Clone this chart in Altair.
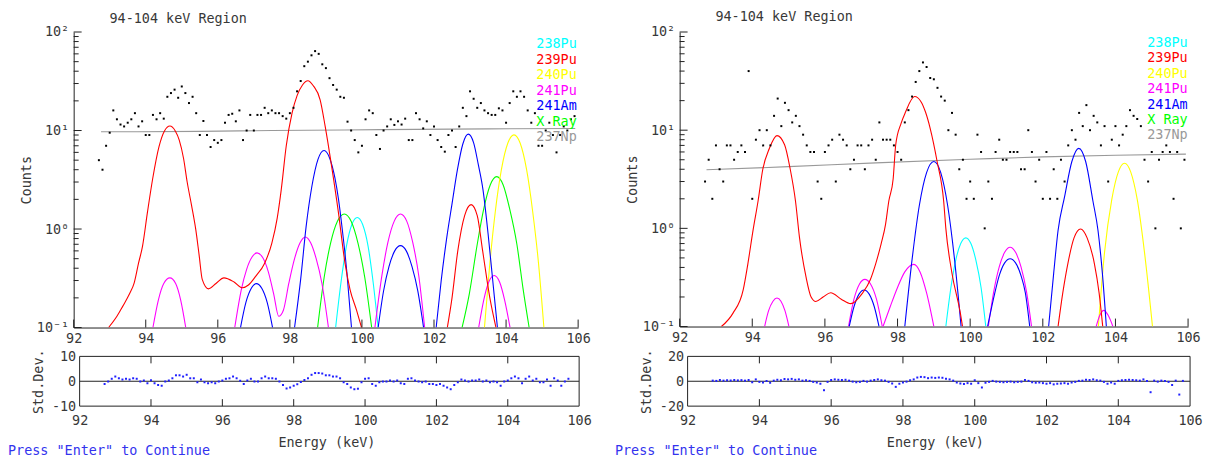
import altair as alt
import pandas as pd

FONT = "DejaVu Sans Mono"
TEXT = "#383838"
AXIS = "#202020"
FS = 13.5

TITLE = "94-104 keV Region"
PROMPT = 'Press "Enter" to Continue'
X_LABEL = "Energy (keV)"
Y_TOP_LABEL = "Counts"
Y_BOT_LABEL = "Std.Dev."
LEGEND = ["238Pu", "239Pu", "240Pu", "241Pu", "241Am", "X Ray", "237Np"]
COLORS = ["#00ffff", "#ff0000", "#ffff00", "#ff00ff", "#0000ff", "#00ff00", "#999999"]

X_TICKS = [92, 94, 96, 98, 100, 102, 104, 106]
X_INNER_TICKS = [94, 96, 98, 100, 102, 104]
Y_MAJOR = [0.1, 1, 10, 100]
Y_MINOR = [0.2, 0.3, 0.4, 0.5, 0.6, 0.7, 0.8, 0.9, 2, 3, 4, 5, 6, 7, 8, 9,
           20, 30, 40, 50, 60, 70, 80, 90]

ENERGY = [92.7, 92.8, 92.9, 93.0, 93.1, 93.2, 93.3, 93.4, 93.5, 93.6,
          93.7, 93.8, 93.9, 94.0, 94.1, 94.2, 94.3, 94.4, 94.5, 94.6,
          94.7, 94.8, 94.9, 95.0, 95.1, 95.2, 95.3, 95.4, 95.5, 95.6,
          95.7, 95.8, 95.9, 96.0, 96.1, 96.2, 96.3, 96.4, 96.5, 96.6,
          96.7, 96.8, 96.9, 97.0, 97.1, 97.2, 97.3, 97.4, 97.5, 97.6,
          97.7, 97.8, 97.9, 98.0, 98.1, 98.2, 98.3, 98.4, 98.5, 98.6,
          98.7, 98.8, 98.9, 99.0, 99.1, 99.2, 99.3, 99.4, 99.5, 99.6,
          99.7, 99.8, 99.9, 100.0, 100.1, 100.2, 100.3, 100.4, 100.5, 100.6,
          100.7, 100.8, 100.9, 101.0, 101.1, 101.2, 101.3, 101.4, 101.5, 101.6,
          101.7, 101.8, 101.9, 102.0, 102.1, 102.2, 102.3, 102.4, 102.5, 102.6,
          102.7, 102.8, 102.9, 103.0, 103.1, 103.2, 103.3, 103.4, 103.5, 103.6,
          103.7, 103.8, 103.9, 104.0, 104.1, 104.2, 104.3, 104.4, 104.5, 104.6,
          104.7, 104.8, 104.9, 105.0, 105.1, 105.2, 105.3, 105.4, 105.5, 105.6,
          105.7, 105.8, 105.9]

LEFT_COUNTS = [5.0, 4.0, 7.0, 9.5, 16, 13, 11.5, 11, 12, 13,
               15, 11, 12.4, 9, 9, 14.4, 13, 15, 13.2, 22,
               24, 26, 21.5, 28, 24, 19, 22, 15, 9, 12.5,
               9, 6.8, 8, 7.5, 8, 12, 14.4, 14.8, 12.4, 16,
               8, 10, 14.4, 10, 14.4, 14.4, 17, 15, 16, 15,
               15, 14, 13.2, 15, 17, 25, 31.8, 45, 50, 58,
               64, 60, 47, 43, 34, 29, 26, 22, 21.5, 12.3,
               10, 8, 6, 7, 13, 16, 15, 9, 6.5, 10,
               11, 13, 11.4, 12.4, 11.5, 13.2, 8, 8, 15, 13,
               10.5, 12.4, 9, 11, 8, 6.8, 6.1, 9, 10, 6.8,
               11, 17, 14, 25, 21, 17, 19, 16, 15, 14.4,
               14.4, 16.8, 16, 12, 19, 25, 22, 25, 22, 16,
               12, 15, 7, 7, 10, 12, 9, 6, 9, 11,
               10, 13, 14]

LEFT_RESID = [-1.1, -0.1, 1.0, 1.9, 1.2, 0.7, 1.0, 0.7, 1.2, 1.0,
              -0.1, 0.3, -0.8, 0.4, -0.8, -1.5, -1.8, -0.1, 0.3, 1.2,
              2.4, 2.4, 1.9, 2.6, 1.2, 1.2, -0.4, 0.7, -0.4, -0.8,
              -0.4, -0.8, -0.1, 0.3, 1.0, 1.2, 1.9, 1.2, 0.2, -1.1,
              0.3, 1.0, -0.1, -0.1, 1.2, 1.9, 1.2, 1.2, 1.0, -0.1,
              -1.5, -2.9, -2.5, -1.8, -1.2, -0.3, 0.5, 1.2, 2.6, 3.3,
              3.3, 3.1, 2.4, 2.4, 1.9, 1.9, 1.2, -0.4, -1.1, -2.5,
              -3.2, -3.0, -0.4, 1.0, 1.2, -1.1, -1.8, -0.4, -0.1, -0.1,
              0.3, -0.1, 0.3, -0.8, -1.1, 1.0, 1.2, 0.3, -0.1, -0.4,
              -0.1, -1.1, -1.1, -1.5, -1.1, -1.8, -2.5, -3.2, -1.5, -0.4,
              0.7, 0.3, -0.1, 0.3, 0.3, 0.7, -0.1, 0.3, -0.4, -0.1,
              -0.4, -1.8, -0.1, 0.3, 1.2, 1.9, 1.2, -0.8, 1.0, 1.9,
              0.3, 1.0, -0.4, -0.4, 0.7, -1.8, 1.2, 0.3, -1.8, -0.1,
              1.0, None, None]

RIGHT_COUNTS = [3, 5, 2, 7, 4, 3, 7, 7, 5, 6,
                7, 6, 40, 2, 8, 10, 7, 10, 7, 14,
                21, 11, 19, 16, 12, 14, 11, 9, 7, 6,
                6, 3, 2, 6, 7, 8, 3, 9, 8, 7,
                4, 5, 7, 7, 4, 7, 8, 5, 12, 8,
                8, 8, 7, 6, 5, 12, 16, 22, 31, 40,
                49, 44, 34, 33, 27, 22, 20, 10, 15, 9,
                4, 5, 2, 3, 2, 9, 6, 1, 3, 2,
                6, 8, 5, 5, 6, 6, 6, 4, 4, 10,
                6, 3, 5, 2, 6, 2, 4, 2, 5, 3,
                7, 10, 8, 15, 11, 18, 10, 14, 12, 7,
                11, 3, 8, 11, 7, 9, 11, 16, 14, 13,
                11, 5, 3, 6, 1, 5, 6, 7, 6, 2,
                6, 1, 5]

RIGHT_RESID = [0.5, 0.3, 1.0, 0.5, 0.8, 0.6, 1.0, 0.7, 0.9, 0.5,
               1.0, -0.8, 1.5, -0.5, -1.0, 0.2, -1.2, 0.5, 1.2, 0.8,
               1.8, 1.5, 1.9, 1.2, 1.5, 0.5, 0.8, 0.3, -0.5, -1.0,
               -2.0, -7.2, -0.5, 1.0, 1.5, 1.2, 1.0, 1.2, 0.5, -0.3,
               -0.8, -0.5, 0.3, -0.3, 0.5, 1.0, 1.5, 0.8, 0.5, -0.5,
               -1.8, -4.5, -2.0, -1.0, -0.3, 0.8, 1.5, 3.0, 3.5, 3.3,
               2.5, 3.0, 2.7, 3.0, 2.8, 2.0, 1.5, 0.5, -1.0, -1.8,
               -2.2, -1.5, -2.0, 0.8, -1.5, -5.0, -1.2, -0.5, 0.3, -0.3,
               -0.5, -0.8, -0.5, -0.3, -0.8, -0.5, -0.3, 1.0, 0.3, -0.8,
               -1.2, -1.0, -1.5, -2.0, -1.5, -2.5, -2.0, -1.8, -1.5, -2.0,
               -1.0, -0.5, 0.3, 0.5, 1.2, 1.0, 1.5, 0.8, 0.5, -0.5,
               -2.0, -1.0, -2.0, 0.3, 0.8, 1.0, 1.2, 1.0, 0.8, 0.5,
               1.5, 0.3, -8.8, 0.5, -0.3, 0.5, 0.2, -0.5, -3.0, 0.5,
               -10.7, 0.3, None]

# ---- fitted component curves, left spectrum ----
L_NP237_E = [92.76, 95.5, 97.5, 100.5, 103.5, 105.92]
L_NP237_V = [9.7, 9.8, 10.0, 10.2, 10.4, 10.5]
L_PU239_E = [92.97, 93.2, 93.36, 93.55, 93.68, 93.8, 93.91, 94.05, 94.19, 94.37,
             94.52, 94.67, 94.82, 94.93, 95.05, 95.15, 95.27, 95.39, 95.48, 95.57,
             95.74, 95.95, 96.17, 96.45, 96.68, 96.85, 97.05, 97.3, 97.5, 97.65,
             97.76, 97.9, 98.06, 98.2, 98.35, 98.5, 98.65, 98.84, 98.98, 99.16,
             99.35, 99.53, 99.67, 99.85, 99.99]
L_PU239_V = [0.1, 0.13, 0.164, 0.22, 0.284, 0.45, 0.667, 1.5, 3.2, 6.9,
             9.9, 11.1, 9.9, 8.0, 5.2, 3.0, 1.75, 0.98, 0.55, 0.306,
             0.247, 0.28, 0.319, 0.29, 0.253, 0.27, 0.331, 0.45, 0.72, 1.3,
             2.5, 7.0, 15, 22.6, 29, 32, 28.5, 20.5, 11, 4.3,
             1.45, 0.45, 0.243, 0.15, 0.1]
L_PU239B_E = [102.37, 102.5, 102.66, 102.85, 103.03, 103.2, 103.35, 103.55, 103.72]
L_PU239B_V = [0.1, 0.2, 0.6, 1.37, 1.77, 1.37, 0.6, 0.2, 0.1]
L_PU241A_E = [94.2, 94.35, 94.5, 94.67, 94.83, 94.97, 95.11]
L_PU241A_V = [0.1, 0.19, 0.28, 0.319, 0.28, 0.19, 0.1]
L_PU241B_E = [96.47, 96.65, 96.8, 96.95, 97.09, 97.25, 97.4, 97.55, 97.69, 97.82,
              97.97, 98.13, 98.28, 98.43, 98.58, 98.73, 98.89, 99.07]
L_PU241B_V = [0.1, 0.24, 0.39, 0.52, 0.572, 0.51, 0.37, 0.22, 0.13, 0.15,
              0.28, 0.5, 0.72, 0.83, 0.72, 0.5, 0.28, 0.1]
L_PU241C_E = [100.36, 100.55, 100.72, 100.9, 101.07, 101.24, 101.41, 101.58, 101.74]
L_PU241C_V = [0.1, 0.33, 0.73, 1.21, 1.42, 1.21, 0.73, 0.33, 0.1]
L_PU241D_E = [103.24, 103.38, 103.52, 103.67, 103.82, 103.96, 104.11]
L_PU241D_V = [0.1, 0.19, 0.29, 0.337, 0.29, 0.19, 0.1]
L_AM241A_E = [96.63, 96.78, 96.93, 97.07, 97.22, 97.37, 97.52]
L_AM241A_V = [0.1, 0.18, 0.25, 0.279, 0.25, 0.18, 0.1]
L_AM241B_E = [98.13, 98.3, 98.45, 98.61, 98.78, 98.95, 99.1, 99.25, 99.35, 99.44, 99.58, 99.71]
L_AM241B_V = [0.1, 0.31, 1.05, 2.7, 5.1, 6.27, 5.3, 3.3, 2.0, 1.1, 0.37, 0.1]
L_AM241C_E = [100.45, 100.6, 100.75, 100.91, 101.07, 101.23, 101.39, 101.55, 101.71]
L_AM241C_V = [0.1, 0.235, 0.415, 0.6, 0.678, 0.6, 0.415, 0.235, 0.1]
L_AM241D_E = [102.06, 102.2, 102.35, 102.5, 102.65, 102.8, 102.95, 103.1, 103.23,
              103.36, 103.5, 103.63, 103.76]
L_AM241D_V = [0.1, 0.3, 0.8, 1.8, 4.0, 7.3, 9.19, 7.5, 4.5, 2.5, 0.9, 0.3, 0.1]
L_XRAYA_E = [98.77, 98.95, 99.13, 99.32, 99.51, 99.7, 99.89, 100.08, 100.27]
L_XRAYA_V = [0.1, 0.32, 0.72, 1.2, 1.42, 1.2, 0.72, 0.32, 0.1]
L_XRAYB_E = [102.78, 102.98, 103.2, 103.38, 103.56, 103.74, 103.92, 104.1, 104.3, 104.47, 104.64]
L_XRAYB_V = [0.1, 0.22, 0.7, 1.6, 2.8, 3.4, 2.8, 1.6, 0.7, 0.25, 0.1]
L_PU238_E = [99.27, 99.42, 99.57, 99.72, 99.87, 100.02, 100.17, 100.31, 100.45]
L_PU238_V = [0.1, 0.29, 0.67, 1.11, 1.31, 1.11, 0.67, 0.29, 0.1]
L_PU240_E = [103.4, 103.55, 103.7, 103.87, 104.05, 104.22, 104.39, 104.57, 104.74, 104.9, 105.05]
L_PU240_V = [0.1, 0.45, 1.49, 4.0, 7.46, 9.04, 7.46, 4.0, 1.49, 0.45, 0.1]

# ---- fitted component curves, right spectrum ----
R_NP237_E = [92.74, 95.0, 97.4, 100.0, 102.0, 104.0, 105.94]
R_NP237_V = [3.95, 4.25, 4.65, 5.05, 5.35, 5.55, 5.7]
R_PU239_E = [93.15, 93.47, 93.75, 93.88, 94.02, 94.16, 94.29, 94.47, 94.68, 94.89,
             95.04, 95.19, 95.3, 95.48, 95.62, 95.75, 95.95, 96.16, 96.45, 96.71,
             97.03, 97.25, 97.4, 97.55, 97.67, 97.76, 97.88, 97.95, 98.1, 98.22,
             98.47, 98.65, 98.77, 98.9, 99.09, 99.27, 99.33, 99.5, 99.73, 99.79]
R_PU239_V = [0.1, 0.137, 0.236, 0.438, 0.95, 1.9, 4.0, 6.5, 8.8, 7.1,
             4.1, 1.9, 0.81, 0.32, 0.2, 0.18, 0.2, 0.221, 0.19, 0.171,
             0.218, 0.3, 0.438, 0.7, 1.1, 1.9, 3.2, 7.1, 11.8, 15.3,
             22, 19.4, 15.3, 10.4, 4.8, 1.9, 1.0, 0.347, 0.137, 0.1]
R_PU239B_E = [102.42, 102.55, 102.69, 102.86, 103.04, 103.22, 103.42, 103.55, 103.65]
R_PU239B_V = [0.1, 0.22, 0.438, 0.8, 0.985, 0.8, 0.438, 0.22, 0.1]
R_PU241A_E = [94.34, 94.45, 94.57, 94.68, 94.79, 94.9, 95.01]
R_PU241A_V = [0.1, 0.145, 0.181, 0.195, 0.181, 0.145, 0.1]
R_PU241B_E = [96.65, 96.8, 96.95, 97.1, 97.26, 97.42, 97.58]
R_PU241B_V = [0.1, 0.19, 0.27, 0.302, 0.27, 0.19, 0.1]
R_PU241C_E = [97.6, 97.8, 98.0, 98.2, 98.45, 98.62, 98.8, 99.0]
R_PU241C_V = [0.1, 0.16, 0.25, 0.36, 0.43, 0.36, 0.22, 0.1]
R_PU241D_E = [100.5, 100.65, 100.8, 100.95, 101.1, 101.25, 101.4, 101.55, 101.69]
R_PU241D_V = [0.1, 0.228, 0.405, 0.57, 0.643, 0.57, 0.405, 0.228, 0.1]
R_PU241E_E = [103.47, 103.57, 103.68, 103.8, 103.93]
R_PU241E_V = [0.1, 0.13, 0.146, 0.13, 0.1]
R_AM241A_E = [96.67, 96.8, 96.94, 97.08, 97.22, 97.36, 97.49]
R_AM241A_V = [0.1, 0.159, 0.214, 0.236, 0.214, 0.159, 0.1]
R_AM241B_E = [98.2, 98.4, 98.6, 98.8, 99.0, 99.19, 99.38, 99.57, 99.75]
R_AM241B_V = [0.1, 0.48, 1.71, 3.7, 4.8, 3.7, 1.71, 0.48, 0.1]
R_AM241C_E = [100.48, 100.64, 100.8, 100.95, 101.1, 101.25, 101.4, 101.52, 101.64]
R_AM241C_V = [0.1, 0.19, 0.33, 0.445, 0.49, 0.445, 0.33, 0.22, 0.1]
R_AM241D_E = [102.16, 102.3, 102.42, 102.6, 102.8, 102.99, 103.18, 103.38, 103.52, 103.64, 103.75]
R_AM241D_V = [0.1, 0.35, 0.95, 2.1, 4.8, 6.53, 4.8, 1.9, 0.95, 0.35, 0.1]
R_PU238_E = [99.33, 99.47, 99.6, 99.74, 99.88, 100.02, 100.16, 100.3, 100.43]
R_PU238_V = [0.1, 0.25, 0.47, 0.7, 0.8, 0.7, 0.47, 0.25, 0.1]
R_PU240_E = [103.53, 103.7, 103.9, 104.08, 104.25, 104.42, 104.6, 104.8, 105.02]
R_PU240_V = [0.1, 0.57, 1.97, 3.76, 4.6, 3.76, 1.97, 0.57, 0.1]

LEFT_CURVES = [
    ("237Np", L_NP237_E, L_NP237_V),
    ("238Pu", L_PU238_E, L_PU238_V),
    ("X Ray", L_XRAYA_E, L_XRAYA_V), ("X Ray", L_XRAYB_E, L_XRAYB_V),
    ("240Pu", L_PU240_E, L_PU240_V),
    ("241Pu", L_PU241A_E, L_PU241A_V), ("241Pu", L_PU241B_E, L_PU241B_V),
    ("241Pu", L_PU241C_E, L_PU241C_V), ("241Pu", L_PU241D_E, L_PU241D_V),
    ("241Am", L_AM241A_E, L_AM241A_V), ("241Am", L_AM241B_E, L_AM241B_V),
    ("241Am", L_AM241C_E, L_AM241C_V), ("241Am", L_AM241D_E, L_AM241D_V),
    ("239Pu", L_PU239_E, L_PU239_V), ("239Pu", L_PU239B_E, L_PU239B_V),
]
RIGHT_CURVES = [
    ("237Np", R_NP237_E, R_NP237_V),
    ("238Pu", R_PU238_E, R_PU238_V),
    ("240Pu", R_PU240_E, R_PU240_V),
    ("241Pu", R_PU241A_E, R_PU241A_V), ("241Pu", R_PU241B_E, R_PU241B_V),
    ("241Pu", R_PU241C_E, R_PU241C_V), ("241Pu", R_PU241D_E, R_PU241D_V),
    ("241Pu", R_PU241E_E, R_PU241E_V),
    ("241Am", R_AM241A_E, R_AM241A_V), ("241Am", R_AM241B_E, R_AM241B_V),
    ("241Am", R_AM241C_E, R_AM241C_V), ("241Am", R_AM241D_E, R_AM241D_V),
    ("239Pu", R_PU239_E, R_PU239_V), ("239Pu", R_PU239B_E, R_PU239B_V),
]


def curve_frame(curves):
    rows = []
    for k, (iso, es, vs) in enumerate(curves):
        for e, v in zip(es, vs):
            rows.append({"iso": iso, "seg": k, "E": e, "V": v})
    return pd.DataFrame(rows)


Y_LABEL_EXPR = ("datum.value >= 50 ? '10\u00b2' : datum.value >= 5 ? '10\u00b9' : "
                "datum.value >= 0.5 ? '10\u2070' : '10\u207b\u00b9'")


def top_panel(counts, curves, width, height, title_y, legend_x, legend_y0, anchor):
    xs = alt.Scale(domain=[92, 106], nice=False, zero=False)
    ys = alt.Scale(type="log", domain=[0.1, 100], nice=False)
    xax = alt.Axis(values=X_TICKS, title=None, ticks=False, tickSize=0, grid=False,
                   labelPadding=4, labelFlush=False, format="d")
    yax = alt.Axis(values=Y_MAJOR, title=Y_TOP_LABEL, ticks=False, tickSize=0, grid=False,
                   labelPadding=5, labelExpr=Y_LABEL_EXPR, titlePadding=3)
    X = lambda f: alt.X(f, scale=xs, axis=xax)
    Y = lambda f: alt.Y(f, scale=ys, axis=yax)

    pts_df = pd.DataFrame({"E": ENERGY, "C": counts})
    pts = alt.Chart(pts_df).mark_square(size=4, color="black", opacity=1).encode(
        x=X("E:Q"), y=Y("C:Q"))
    lines = alt.Chart(curve_frame(curves)).mark_line(
        clip=True, strokeWidth=1.1, interpolate="monotone").encode(
        x=X("E:Q"), y=Y("V:Q"),
        color=alt.Color("iso:N", scale=alt.Scale(domain=LEGEND, range=COLORS), legend=None),
        detail="seg:N")
    ymaj = alt.Chart(pd.DataFrame({"t": Y_MAJOR})).mark_rule(color=AXIS).encode(
        y=Y("t:Q"), x=alt.value(0), x2=alt.value(8))
    ymin = alt.Chart(pd.DataFrame({"t": Y_MINOR})).mark_rule(color=AXIS).encode(
        y=Y("t:Q"), x=alt.value(0), x2=alt.value(5))
    xtk = alt.Chart(pd.DataFrame({"t": X_TICKS})).mark_rule(color=AXIS).encode(
        x=X("t:Q"), y=alt.value(height), y2=alt.value(height - 8))
    title = alt.Chart(pd.DataFrame({"t": [TITLE]})).mark_text(
        align="left", baseline="middle", font=FONT, fontSize=FS, color=TEXT).encode(
        text="t:N", x=alt.value(36), y=alt.value(title_y))
    layers = [lines, pts, ymaj, ymin, xtk, title]
    for i, (lab, col) in enumerate(zip(LEGEND, COLORS)):
        layers.append(alt.Chart(pd.DataFrame({"t": [lab]})).mark_text(
            align="left", baseline="middle", font=FONT, fontSize=FS, color=col).encode(
            text="t:N", x=alt.value(legend_x), y=alt.value(legend_y0 + 15.5 * i)))
    if anchor:
        layers.append(alt.Chart(pd.DataFrame({"t": [0]})).mark_rule(opacity=0).encode(
            x=alt.value(-66), x2=alt.value(-60), y=alt.value(-23)))
    return alt.layer(*layers).properties(width=width, height=height)


def bottom_panel(resid, width, height, xmin, lim, off, prompt_x, prompt_y):
    xs = alt.Scale(domain=[xmin, 106], nice=False, zero=False)
    ys = alt.Scale(domain=[-lim, lim], nice=False)
    xax = alt.Axis(values=X_TICKS, title=X_LABEL, domain=False, ticks=False, tickSize=0,
                   grid=False, labelPadding=7, titlePadding=9, labelFlush=False, format="d")
    yax = alt.Axis(values=[-lim, 0, lim], title=Y_BOT_LABEL, offset=-off, domain=False,
                   ticks=False, tickSize=0, grid=False, labelPadding=4,
                   labelExpr="'' + datum.value", titlePadding=6)
    X = lambda f: alt.X(f, scale=xs, axis=xax)
    Y = lambda f: alt.Y(f, scale=ys, axis=yax)

    res_df = pd.DataFrame({"E": ENERGY, "R": resid})
    pts = alt.Chart(res_df).mark_square(size=4, color="#2020ff", opacity=1).encode(
        x=X("E:Q"), y=Y("R:Q"))
    hframe = alt.Chart(pd.DataFrame({"a": [92, 92, 92], "b": [106, 106, 106],
                                     "y": [-lim, 0, lim]})).mark_rule(color=AXIS).encode(
        x=X("a:Q"), x2="b:Q", y=Y("y:Q"))
    vframe = alt.Chart(pd.DataFrame({"a": [92, 106], "lo": [-lim, -lim],
                                     "hi": [lim, lim]})).mark_rule(color=AXIS).encode(
        x=X("a:Q"), y=Y("lo:Q"), y2="hi:Q")
    tdf = pd.DataFrame({"t": X_INNER_TICKS})
    ttop = alt.Chart(tdf).mark_rule(color=AXIS).encode(
        x=X("t:Q"), y=alt.value(0), y2=alt.value(7))
    tbot = alt.Chart(tdf).mark_rule(color=AXIS).encode(
        x=X("t:Q"), y=alt.value(height), y2=alt.value(height - 7))
    prompt = alt.Chart(pd.DataFrame({"t": [PROMPT]})).mark_text(
        align="left", baseline="middle", font=FONT, fontSize=FS, color="#3333ee").encode(
        text="t:N", x=alt.value(prompt_x), y=alt.value(prompt_y))
    return alt.layer(hframe, vframe, ttop, tbot, pts, prompt).properties(
        width=width, height=height)


top_l = top_panel(LEFT_COUNTS, LEFT_CURVES, 507, 297, -13, 465, 12.5, True)
top_r = top_panel(RIGHT_COUNTS, RIGHT_CURVES, 511, 296, -15, 470, 11, False)
bot_l = bottom_panel(LEFT_RESID, 508, 50, 91.833, 10, 6, -66, 95)
bot_r = bottom_panel(RIGHT_RESID, 513, 50, 91.778, 20, 8, -65, 95)

chart = alt.concat(top_l, top_r, bot_l, bot_r, columns=2,
                   spacing={"row": 29, "column": 101}, bounds="flush").properties(
    padding=0, background="white"
).configure_view(strokeWidth=0).configure_axis(
    labelFont=FONT, titleFont=FONT, labelFontSize=FS, titleFontSize=FS,
    labelColor=TEXT, titleColor=TEXT, titleFontWeight="normal",
    domainColor=AXIS, domainWidth=1
)

chart.save("out.html", embed_options={"renderer": "svg", "actions": False})
